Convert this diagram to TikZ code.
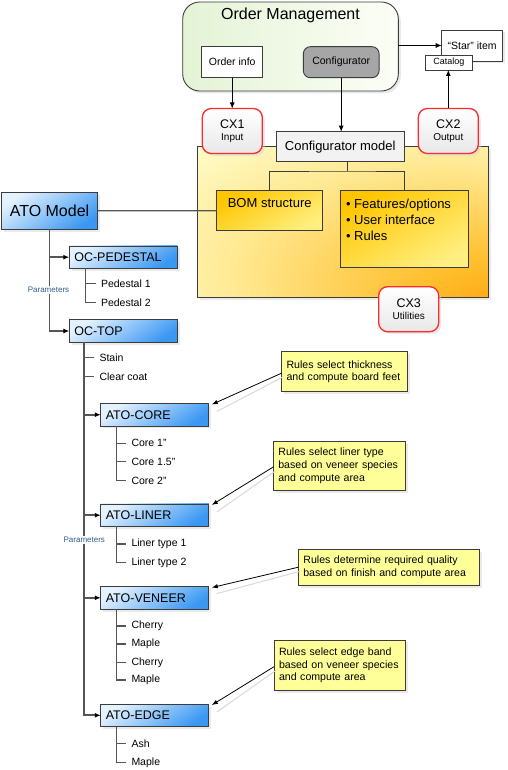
\documentclass[tikz,border=0pt]{standalone}
\usepackage{fontspec}
\setmainfont{Liberation Sans}
\usetikzlibrary{arrows.meta,shadows,calc}
\definecolor{bordc}{HTML}{3C3C3C}
\definecolor{treec}{HTML}{555555}
\definecolor{blA}{HTML}{E4F2FF}
\definecolor{blB}{HTML}{3B98F2}
\definecolor{ybo}{HTML}{FF9600}
\definecolor{ybm}{HTML}{FFBE2C}
\definecolor{ybl}{HTML}{FFE890}
\definecolor{ybp}{HTML}{FFFFD4}
\definecolor{gA}{HTML}{E4F3D6}
\definecolor{gB}{HTML}{FCFEF6}
\definecolor{yA}{HTML}{FFC600}
\definecolor{yB}{HTML}{FFEF80}
\definecolor{noteY}{HTML}{FFFF99}
\definecolor{cxred}{HTML}{FF2A2A}
\definecolor{paramc}{HTML}{2F5F8F}
\pgfdeclareradialshading{bigyellow}{\pgfpoint{34bp}{-34bp}}{%
  color(0bp)=(ybo); color(14bp)=(ybm); color(35bp)=(ybl); color(52bp)=(ybp); color(70bp)=(ybp)}
\begin{document}
\begin{tikzpicture}[x=1pt,y=-1pt,
  every node/.style={inner sep=0pt, outer sep=0pt},
  shad/.style={drop shadow={shadow xshift=2.5pt,shadow yshift=-2.5pt,fill=black!16}},
  bx/.style={draw=bordc, line width=0.9pt},
  bluebox/.style={bx, shad, top color=blA, bottom color=blB, shading angle=35,
     minimum width=108pt, minimum height=22.5pt, text width=98pt, align=left, inner xsep=5pt,
     font=\fontsize{12.5}{14}\selectfont},
  leaf/.style={anchor=west, inner xsep=5.5pt, font=\fontsize{10.5}{12}\selectfont},
  note/.style={bx, shad, fill=noteY, align=left, inner xsep=5pt, font=\fontsize{10.6}{12.7}\selectfont},
  cx/.style={draw=cxred, line width=1.3pt, rounded corners=9pt, top color=white, bottom color=black!9,
     minimum width=60pt, minimum height=45pt, align=center, shad, font=\fontsize{10}{12.5}\selectfont},
  trunk/.style={draw=treec, line width=1.7pt},
  tree/.style={draw=treec, line width=1.2pt},
  tip/.style={-{Latex[length=6pt,width=5pt,color=black]}},
  arr/.style={draw=black, line width=0.8pt, -{Latex[length=6pt,width=5pt]}},
  notearr/.style={draw=black, line width=0.8pt, -{Latex[length=6pt,width=4.5pt]}},
  ghost/.style={draw=black!15, line width=1pt},
  params/.style={fill=white, text=paramc, font=\fontsize{8}{9}\selectfont, inner sep=1pt},
]
\useasboundingbox[fill=white] (0,0) rectangle (507,770);

% ---------- Order management ----------
\node[bx, shad, rounded corners=17pt, left color=gA, right color=gB, minimum width=215.6pt, minimum height=89pt] (om) at (290.5,46.5) {};
\node[font=\fontsize{16}{18}\selectfont] (omt) at (290.5,15.5) {Order Management};
\node[bx, fill=white, minimum width=61pt, minimum height=31pt, font=\fontsize{10.5}{12}\selectfont] (oi) at (232.2,62.2) {Order info};
\node[bx, rounded corners=7pt, fill=black!35, minimum width=75.7pt, minimum height=31pt, font=\fontsize{10.5}{12}\selectfont] (cfg) at (341.2,62.2) {Configurator};

\node[bx, shad, fill=white, minimum width=61pt, minimum height=31pt, font=\fontsize{10.5}{12}\selectfont] (star) at (472.2,45.5) {“Star” item};
\node[bx, fill=white, minimum width=46.3pt, minimum height=15pt, font=\fontsize{9}{10}\selectfont] (cat) at (448.8,62.5) {Catalog};

% ---------- configurator area ----------
\node[bx, shad, shade, shading=bigyellow, minimum width=291pt, minimum height=151.3pt] (yb) at (342.8,221.7) {};
\node[bx, top color=yA, bottom color=yB, shading angle=30, minimum width=106pt, minimum height=40pt] (bom) at (269.7,210.7) {};
\node[font=\fontsize{13}{15}\selectfont] (bomt) at (269.7,203.5) {BOM structure};
\node[bx, top color=yA, bottom color=yB, shading angle=30, minimum width=128.7pt, minimum height=76.7pt] (feat) at (404.3,229) {};
\node[anchor=north west, align=left, font=\fontsize{13}{16}\selectfont] (featt) at (346,199) {• Features/options\\• User interface\\• Rules};

\node[bx, fill=black!5, minimum width=128.3pt, minimum height=30pt, font=\fontsize{13}{15}\selectfont] (cm) at (340.2,146.7) {Configurator model};
\node[cx] (cx1) at (232.3,131) {{\fontsize{12.5}{12.5}\selectfont CX1}\\Input};
\node[cx] (cx2) at (448.3,131) {{\fontsize{12.5}{12.5}\selectfont CX2}\\Output};
\node[cx] (cx3) at (408.7,309.2) {{\fontsize{12.5}{12.5}\selectfont CX3}\\Utilities};

\coordinate (cmj) at (347.7,171);
\draw[bx] (cmj |- cm.south) -- (cmj);
\draw[bx] (bom.north) |- (cmj) -| (feat.north);

\draw[arr] (om.east |- star.west) -- (star.west);
\draw[arr] (oi.south) -- (oi.south |- cx1.north);
\draw[arr] (cfg.south) -- (cfg.south |- cm.north);
\draw[arr] (cx2.north) -- (cx2.north |- cat.south);

% ---------- ATO tree ----------
\node[bx, shad, top color=blA, bottom color=blB, shading angle=35, minimum width=95.6pt, minimum height=37pt,
  font=\fontsize{16}{18}\selectfont] (ato) at (49.5,210.8) {ATO Model};
\draw[draw=treec, line width=1.1pt] (ato.east) -- (bom.west);

\node[bluebox] (ocped) at (123.3,257.2) {OC-PEDESTAL};
\node[bluebox] (octop) at (123.3,331) {OC-TOP};

\draw[trunk, tip] (ato.south) |- (octop.west);
\draw[trunk, tip] (ato.south |- ocped.west) -- (ocped.west);
\node[params] (par1) at (48.5,290) {Parameters};

\coordinate (pj) at ($(ocped.south west)+(16,0)$);
\node[leaf] (p1) at (95.5,283.3) {Pedestal 1};
\node[leaf] (p2) at (95.5,302.7) {Pedestal 2};
\draw[tree] (pj |- p1.west) -- (p1.west);
\draw[tree] (pj) |- (p2.west);

\node[bluebox] (core) at (154.8,414.7) {ATO-CORE};
\node[bluebox] (liner) at (154.8,515.2) {ATO-LINER};
\node[bluebox] (veneer) at (154.8,597.8) {ATO-VENEER};
\node[bluebox] (edge) at (154.8,715.3) {ATO-EDGE};

\coordinate (t2) at ($(octop.south west)+(15,0)$);
\draw[trunk, tip] (t2) |- (edge.west);
\draw[trunk, tip] (t2 |- core.west) -- (core.west);
\draw[trunk, tip] (t2 |- liner.west) -- (liner.west);
\draw[trunk, tip] (t2 |- veneer.west) -- (veneer.west);
\node[params] (par2) at (84.3,540) {Parameters};

\node[leaf] (stain) at (94,357.3) {Stain};
\node[leaf] (clear) at (94,376.7) {Clear coat};
\draw[tree] (t2 |- stain.west) -- (stain.west);
\draw[tree] (t2 |- clear.west) -- (clear.west);

% core
\coordinate (cj) at ($(core.south west)+(16,0)$);
\node[leaf] (c1) at (126,443.3) {Core 1"};
\node[leaf] (c2) at (126,461.7) {Core 1.5"};
\node[leaf] (c3) at (126,480.7) {Core 2"};
\draw[tree] (cj |- c1.west) -- (c1.west);
\draw[tree] (cj |- c2.west) -- (c2.west);
\draw[tree] (cj) |- (c3.west);

% liner
\coordinate (lj) at ($(liner.south west)+(16,0)$);
\node[leaf] (l1) at (126,544) {Liner type 1};
\node[leaf] (l2) at (126,562.7) {Liner type 2};
\draw[tree] (lj |- l1.west) -- (l1.west);
\draw[tree] (lj) |- (l2.west);

% veneer
\coordinate (vj) at ($(veneer.south west)+(16,0)$);
\node[leaf] (v1) at (126,626) {Cherry};
\node[leaf] (v2) at (126,644) {Maple};
\node[leaf] (v3) at (126,662.3) {Cherry};
\node[leaf] (v4) at (126,680) {Maple};
\draw[tree] (vj |- v1.west) -- (v1.west);
\draw[tree] (vj |- v2.west) -- (v2.west);
\draw[tree] (vj |- v3.west) -- (v3.west);
\draw[tree] (vj) |- (v4.west);

% edge
\coordinate (ej) at ($(edge.south west)+(16,0)$);
\node[leaf] (e1) at (126,743.3) {Ash};
\node[leaf] (e2) at (126,762.3) {Maple};
\draw[tree] (ej |- e1.west) -- (e1.west);
\draw[tree] (ej) |- (e2.west);

% ---------- notes ----------
\node[note, text width=116pt, minimum height=40pt] (n1) at (344.5,371.7) {Rules select thickness\\and compute board feet};
\node[note, text width=121.7pt, minimum height=48.3pt] (n2) at (339.2,465.9) {Rules select liner type\\based on veneer species\\and compute area};
\node[note, text width=170.7pt, minimum height=35.7pt] (n3) at (388.7,567.2) {Rules determine required quality\\based on finish and compute area};
\node[note, text width=121pt, minimum height=50.7pt] (n4) at (339.5,665.3) {Rules select edge band\\based on veneer species\\and compute area};

\draw[ghost] ($(n1.west)+(2,5)$) -- ($(core.north east)+(8,8)$);
\draw[ghost] ($(n2.west)+(2,5)$) -- ($(liner.north east)+(8,8)$);
\draw[ghost] ($(n3.west)+(2,4)$) -- ($(veneer.north east)+(8,7)$);
\draw[ghost] ($(n4.west)+(2,5)$) -- ($(edge.north east)+(8,8)$);
\draw[notearr] ($(n1.west)+(0,1.5)$) -- ($(core.north east)+(3,1)$);
\draw[notearr] ($(n2.west)+(0,1)$) -- ($(liner.north east)+(3,1)$);
\draw[notearr] (n3.west) -- ($(veneer.north east)+(3,1)$);
\draw[notearr] ($(n4.west)+(0,1.4)$) -- ($(edge.north east)+(3,1)$);
\end{tikzpicture}
\end{document}
